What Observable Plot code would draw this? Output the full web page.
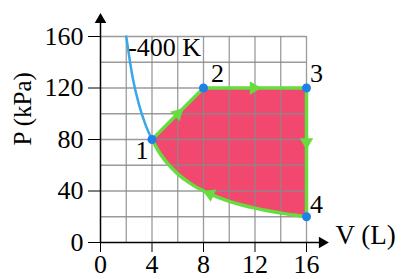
<!DOCTYPE html>
<html><head><meta charset="utf-8">
<script src="https://cdn.jsdelivr.net/npm/d3@7"></script>
<script src="https://cdn.jsdelivr.net/npm/@observablehq/plot@0.6"></script>
<style>body{margin:0;background:#fff} svg text{font-family:"Liberation Serif","Times New Roman",serif !important}</style>
</head><body><div id="chart"></div>
<script>
// Isotherm (400 K)
const isoV = [2, 2.5, 3, 3.5, 4, 4.5, 5, 5.5, 6, 7, 8, 9, 10, 11, 12, 13, 14, 15, 16];
const isoP = [160, 128, 106.7, 91.4, 80, 71.1, 64, 58.2, 53.3, 45.7, 40, 35.6, 32, 29.1, 26.7, 24.6, 22.9, 21.3, 20];
// States
const stateLabels = ["1", "2", "3", "4"];
const stateV = [4, 8, 16, 16];
const stateP = [80, 120, 120, 20];
// Direction arrows along the cycle
const arrowV = [6, 11.9, 16, 8.5];
const arrowP = [100, 120, 78, 37.6];
const arrowDV = [1, 1, 0, -1];
const arrowDP = [10, 0, -1, 4.43];
// Ticks
const xTicks = [0, 4, 8, 12, 16];
const yTicks = [0, 40, 80, 120, 160];
const xGrid = [2, 4, 6, 8, 10, 12, 14, 16];
const yGrid = [20, 40, 60, 80, 100, 120, 140, 160];
const isoLabel = "-400 K";

const W = 401, H = 279, ML = 100, MR = 95, MT = 36, MB = 37;
const kx = (W - ML - MR) / 16, ky = (H - MT - MB) / 160;
const FONT = "Liberation Serif";
const FS = 26;

const iso = isoV.map((V, i) => ({V, P: isoP[i]}));
const states = stateV.map((V, i) => ({V, P: stateP[i], label: stateLabels[i]}));
const isoLeft = iso.filter(d => d.V <= 4);
const isoCycle = iso.filter(d => d.V >= 4);
const cycle = [states[0], states[1], states[2], states[3], ...isoCycle.slice().reverse()];
const arrows = arrowV.map((V, i) => ({V, P: arrowP[i], rot: Math.atan2(arrowDV[i] * kx, arrowDP[i] * ky) * 180 / Math.PI}));

const green = "#66dc3e", blue = "#38a8e8", dotBlue = "#1f80e6", pink = "#f2486f";
const labelOffsets = [[-10, 11], [14, -14], [10, -14], [10, -12]];

const chart = Plot.plot({
  width: W, height: H, marginLeft: ML, marginRight: MR, marginTop: MT, marginBottom: MB,
  x: {domain: [0, 16], label: null}, y: {domain: [0, 160], label: null},
  style: {fontFamily: FONT, fontSize: FS + "px", color: "#000", background: "#fff", overflow: "visible"},
  marks: [
    Plot.line(cycle, {x: "V", y: "P", fill: pink, stroke: "none"}),
    Plot.ruleX(xGrid, {y1: 0, y2: 160, stroke: "#8a8a8a", strokeWidth: 1.3, strokeOpacity: 0.85}),
    Plot.ruleY(yGrid, {x1: 0, x2: 16, stroke: "#8a8a8a", strokeWidth: 1.3, strokeOpacity: 0.85}),
    Plot.axisX(xTicks, {label: null, tickSize: 10, tickPadding: 2, fontSize: FS, fontFamily: FONT, stroke: "#000", tickFormat: d => String(d)}),
    Plot.axisY(yTicks, {label: null, tickSize: 12, tickPadding: 5, fontSize: FS, fontFamily: FONT, stroke: "#000", tickFormat: d => String(d)}),
    Plot.ruleY([0], {x1: 0, x2: 17.2, stroke: "#000", strokeWidth: 1.5}),
    Plot.ruleX([0], {y1: 0, y2: 173, stroke: "#000", strokeWidth: 1.5}),
    Plot.dot([{V: 17.22, P: 0, rot: 90}, {V: 0, P: 173, rot: 0}], {x: "V", y: "P", symbol: "triangle", r: 4.3, fill: "#000", stroke: "none", rotate: "rot"}),
    Plot.line(isoLeft, {x: "V", y: "P", stroke: blue, strokeWidth: 2.5, curve: "monotone-x"}),
    Plot.line(states, {x: "V", y: "P", stroke: green, strokeWidth: 3.5}),
    Plot.line(isoCycle, {x: "V", y: "P", stroke: green, strokeWidth: 3.5, curve: "monotone-x"}),
    Plot.dot(arrows, {x: "V", y: "P", symbol: "triangle", r: 5, fill: green, stroke: "none", rotate: "rot"}),
    Plot.dot(states, {x: "V", y: "P", r: 4.5, fill: dotBlue, stroke: "none"}),
    ...labelOffsets.map((o, i) => Plot.text(states.slice(i, i + 1), {x: "V", y: "P", text: "label", dx: o[0], dy: o[1], fontSize: FS, fontFamily: FONT})),
    Plot.text([isoLabel], {x: isoV[0] + 0.15, y: 151.5, text: d => d, textAnchor: "start", fontSize: FS, fontFamily: FONT}),
    Plot.text(["P (kPa)"], {frameAnchor: "left", dx: -78, dy: 6, rotate: -90, text: d => d, fontSize: 25, fontFamily: FONT}),
    Plot.text(["V (L)"], {frameAnchor: "bottom-right", dx: 29, dy: 1, textAnchor: "start", text: d => d, fontSize: 27, fontFamily: FONT})
  ]
});
document.getElementById("chart").append(chart);
</script></body></html>
